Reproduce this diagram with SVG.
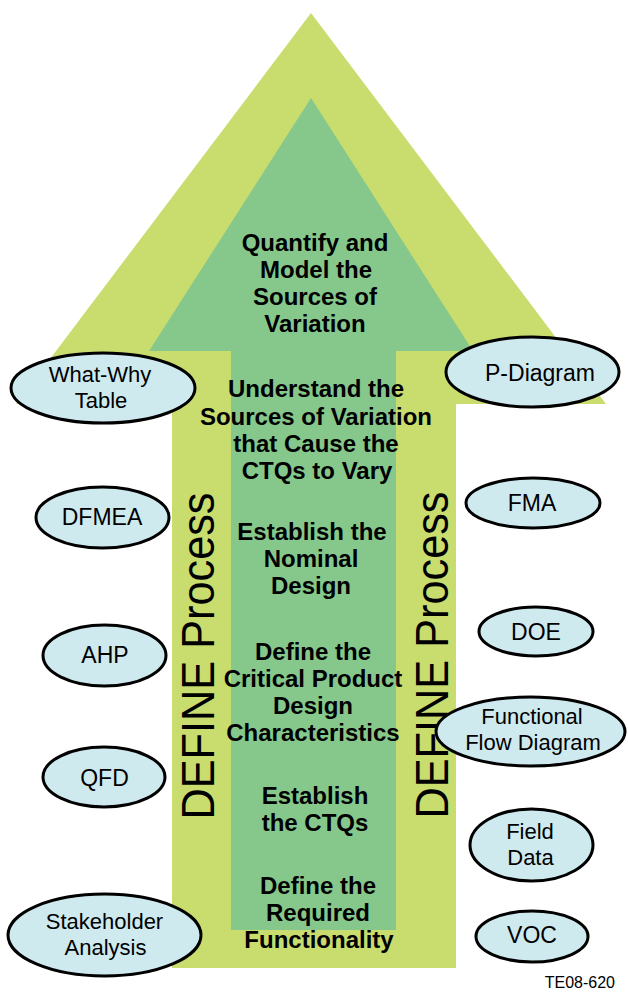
<svg xmlns="http://www.w3.org/2000/svg" width="628" height="992" viewBox="0 0 628 992">
<style>
.outer{fill:#C9DC6E}
.inner{fill:#86C88B}
.ell{fill:#CFEAEF;stroke:#000;stroke-width:3}
.lbl{font-family:"Liberation Sans",Arial,sans-serif;font-size:23px;fill:#000;text-anchor:middle}
.lbl2{font-family:"Liberation Sans",Arial,sans-serif;font-size:22px;fill:#000;text-anchor:middle}
.step{font-family:"Liberation Sans",Arial,sans-serif;font-size:24px;font-weight:bold;fill:#000;text-anchor:middle}
.side{font-family:"Liberation Sans",Arial,sans-serif;font-size:46px;fill:#000;text-anchor:middle}
.tag{font-family:"Liberation Sans",Arial,sans-serif;font-size:16px;fill:#000;text-anchor:end}
</style>
<rect width="628" height="992" fill="#FFFFFF"/>
<g id="arrow">
<polygon class="outer" points="311,13 606,404 456,404 456,968 172,968 172,404 16,404"/>
<polygon class="inner" points="311,98 473,351 396,351 396,930 231,930 231,351 149,351"/>
</g>
<g id="steps">
<g id="step-quantify">
<text class="step" x="315" y="251">Quantify and</text>
<text class="step" x="316" y="278">Model the</text>
<text class="step" x="315" y="305">Sources of</text>
<text class="step" x="315" y="332">Variation</text>
</g>
<g id="step-understand">
<text class="step" x="316" y="397">Understand the</text>
<text class="step" x="316" y="425">Sources of Variation</text>
<text class="step" x="316" y="452">that Cause the</text>
<text class="step" x="317" y="479">CTQs to Vary</text>
</g>
<g id="step-nominal">
<text class="step" x="312" y="540">Establish the</text>
<text class="step" x="311" y="567">Nominal</text>
<text class="step" x="311" y="594">Design</text>
</g>
<g id="step-critical">
<text class="step" x="313" y="660">Define the</text>
<text class="step" x="313" y="687">Critical Product</text>
<text class="step" x="313" y="714">Design</text>
<text class="step" x="313" y="741">Characteristics</text>
</g>
<g id="step-ctqs">
<text class="step" x="315" y="804">Establish</text>
<text class="step" x="315" y="831">the CTQs</text>
</g>
<g id="step-functionality">
<text class="step" x="318" y="894">Define the</text>
<text class="step" x="318" y="921">Required</text>
<text class="step" x="319" y="948">Functionality</text>
</g>
</g>
<g id="side-left"><text class="side" transform="translate(214,656) rotate(-90)" textLength="327" lengthAdjust="spacingAndGlyphs">DEFINE Process</text></g>
<g id="side-right"><text class="side" transform="translate(448,655) rotate(-90)" textLength="327" lengthAdjust="spacingAndGlyphs">DEFINE Process</text></g>
<g id="what-why">
<ellipse class="ell" cx="103" cy="388" rx="92" ry="35"/>
<text class="lbl2" x="100" y="382">What-Why</text>
<text class="lbl2" x="101" y="408">Table</text>
</g>
<g id="dfmea">
<ellipse class="ell" cx="102.5" cy="517.5" rx="66.5" ry="30.5"/>
<text class="lbl" x="102" y="525">DFMEA</text>
</g>
<g id="ahp">
<ellipse class="ell" cx="104.5" cy="655.5" rx="61.5" ry="30.5"/>
<text class="lbl" x="105" y="663">AHP</text>
</g>
<g id="qfd">
<ellipse class="ell" cx="104" cy="777" rx="61" ry="30"/>
<text class="lbl" x="104.5" y="786">QFD</text>
</g>
<g id="stakeholder">
<ellipse class="ell" cx="104.5" cy="935" rx="96.5" ry="41"/>
<text class="lbl2" x="104.5" y="929">Stakeholder</text>
<text class="lbl2" x="105.5" y="955">Analysis</text>
</g>
<g id="p-diagram">
<ellipse class="ell" cx="532.5" cy="372" rx="86.5" ry="35"/>
<text class="lbl" x="540" y="381">P-Diagram</text>
</g>
<g id="fma">
<ellipse class="ell" cx="533" cy="503" rx="67" ry="25"/>
<text class="lbl" x="532" y="511">FMA</text>
</g>
<g id="doe">
<ellipse class="ell" cx="536" cy="631.5" rx="57" ry="24.5"/>
<text class="lbl" x="536" y="640">DOE</text>
</g>
<g id="functional-flow">
<ellipse class="ell" cx="530.5" cy="731.5" rx="94.5" ry="34.5"/>
<text class="lbl2" x="532" y="724">Functional</text>
<text class="lbl2" x="533" y="750">Flow Diagram</text>
</g>
<g id="field-data">
<ellipse class="ell" cx="531.5" cy="845" rx="61.5" ry="36"/>
<text class="lbl2" x="530" y="839">Field</text>
<text class="lbl2" x="530.5" y="865">Data</text>
</g>
<g id="voc">
<ellipse class="ell" cx="532" cy="936.5" rx="56" ry="25.5"/>
<text class="lbl" x="532" y="943">VOC</text>
</g>
<text class="tag" x="615" y="988">TE08-620</text>
</svg>
